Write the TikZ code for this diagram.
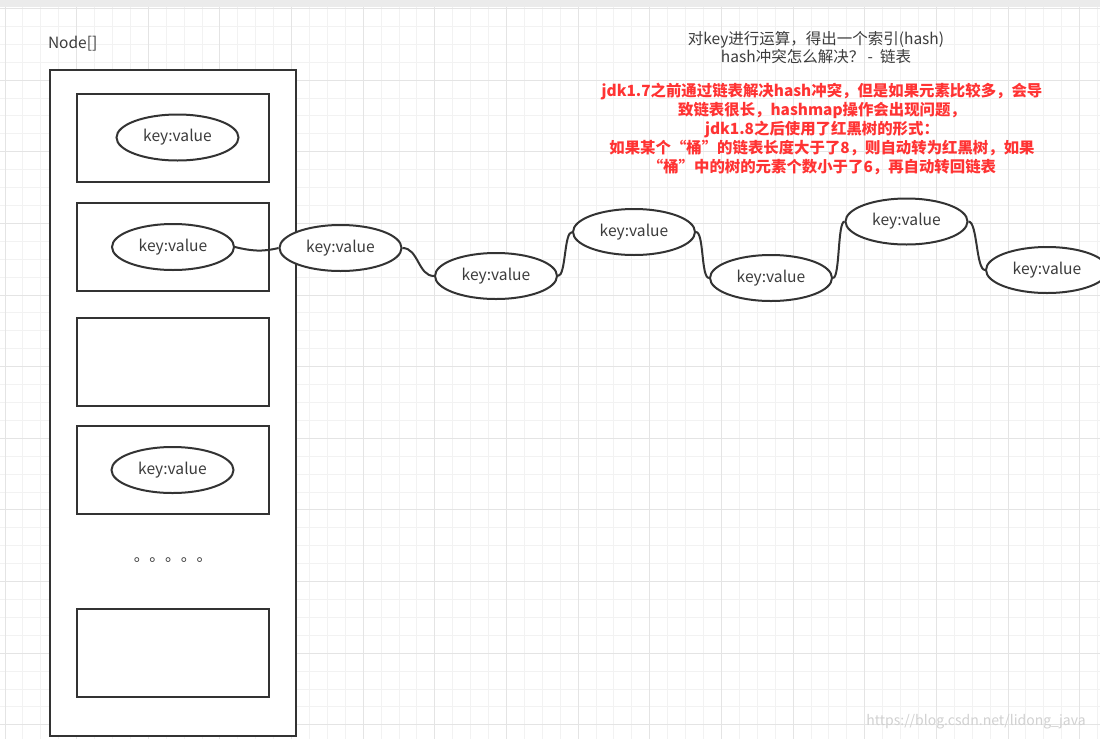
\documentclass[tikz,border=0pt]{standalone}
\usepackage{fontspec}
\setmainfont{Noto Sans CJK SC}
\usetikzlibrary{calc,positioning,shapes.geometric}
\definecolor{LineGray}{HTML}{333333}
\definecolor{TxtGray}{HTML}{3C3C3C}
\definecolor{NoteRed}{HTML}{FF3333}
\definecolor{GridMinor}{HTML}{F2F2F2}
\definecolor{GridMajor}{HTML}{E4E4E4}

\begin{document}
\begin{tikzpicture}[x=1pt,y=-1pt,
  slot/.style={draw=LineGray,line width=2pt,fill=white,minimum width=192pt,minimum height=88pt,inner sep=0pt},
  kv/.style={ellipse,draw=LineGray,line width=2pt,fill=white,minimum width=122pt,minimum height=46pt,inner sep=0pt,font=\fontsize{15.6}{18}\selectfont,text=TxtGray},
  link/.style={draw=LineGray,line width=2pt},
  gmin/.style={draw=GridMinor,line width=1pt},
  gmaj/.style={draw=GridMajor,line width=1pt}]
\useasboundingbox (0,0) rectangle (1100,739);
\fill[white] (0,0) rectangle (1100,739);
% grid
\foreach \i in {0,...,61} \draw[gmin] ({5.05+17.91*\i},0) -- ({5.05+17.91*\i},739);
\foreach \j in {0,...,41} \draw[gmin] (0,{8.46+17.91*\j}) -- (1100,{8.46+17.91*\j});
\foreach \i in {0,...,15} \draw[gmaj] ({5.05+71.64*\i},0) -- ({5.05+71.64*\i},739);
\foreach \j in {0,...,10} \draw[gmaj] (0,{8.46+71.64*\j}) -- (1100,{8.46+71.64*\j});
\fill[black!8] (0,0) rectangle (1100,7);
% Node[] array
\node[anchor=west,text=TxtGray,font=\fontsize{15.5}{18}\selectfont] (lbl) at (44.5,44) {Node[]};
\node[slot,minimum width=246pt,minimum height=666pt] (tab) at (173,403) {};
\node[slot] (b1) at (173,137.5) {};\node[slot] (b2) at (173,247) {};\node[slot] (b3) at (173,361.5) {};
\node[slot] (b4) at (173,470) {};\node[slot] (b5) at (173,653) {};
\node[kv] (k1) at (177.5,137.5) {key:value};\node[kv] (k2) at (173,247) {key:value};\node[kv] (k4) at (172.5,470) {key:value};
\node[text=TxtGray,font=\fontsize{15.7}{16}\selectfont,anchor=base,inner sep=0pt] (dots) at (173,561) {。。。。。};
% linked list
\node[kv] (c1) at (340.5,248) {key:value};\node[kv] (c2) at (496,276) {key:value};\node[kv] (c3) at (634,232) {key:value};
\node[kv] (c4) at (771,278) {key:value};\node[kv] (c5) at (906.5,221.5) {key:value};\node[kv] (c6) at (1047,270) {key:value};
\draw[link] (k2.east) .. controls ($(k2.east)+(16,4)$) and ($(c1.west)+(-16,4)$) .. (c1.west);
\draw[link] (c1.east) to[out=0,in=180,distance=16pt] (c2.west);
\draw[link] (c2.east) to[out=0,in=180,distance=8pt] (c3.west);
\draw[link] (c3.east) to[out=0,in=180,distance=8pt] (c4.west);
\draw[link] (c4.east) to[out=0,in=180,distance=7pt] (c5.west);
\draw[link] (c5.east) to[out=0,in=180,distance=9pt] (c6.west);
% notes
\node[text=TxtGray,align=center,font=\fontsize{15.5}{18.7}\selectfont] (q) at (816,47.5) {对key进行运算，得出一个索引(hash)\\hash冲突怎么解决？\ -\ \ 链表};
\node[text=NoteRed,align=center,font=\bfseries\fontsize{15.4}{19}\selectfont] (note) at (822,129) {jdk1.7之前通过链表解决hash冲突，但是如果元素比较多，会导\\致链表很长，hashmap操作会出现问题，\\jdk1.8之后使用了红黑树的形式：\\如果某个“桶”的链表长度大于了8，则自动转为红黑树，如果\\“桶”中的树的元素个数小于了6，再自动转回链表};
\node[text=black!18,font=\fontsize{14}{16}\selectfont] (wm) at (976,722) {https://blog.csdn.net/lidong\_java};
\end{tikzpicture}
\end{document}
